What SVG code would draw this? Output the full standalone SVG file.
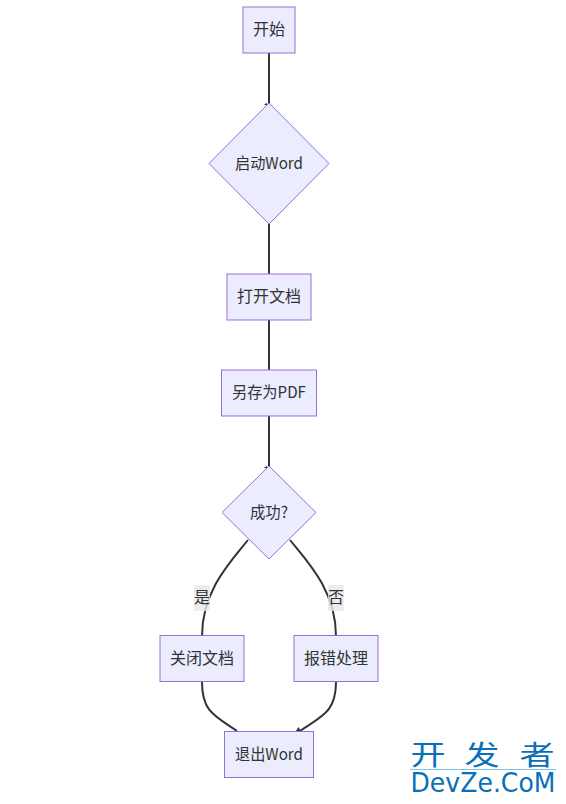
<svg xmlns="http://www.w3.org/2000/svg" width="566" height="804" viewBox="0 0 566 804">
<style>
text{font-family:"Noto Sans CJK SC","Liberation Sans",sans-serif;font-size:16px;fill:#333;text-anchor:middle;dominant-baseline:central}
.n{fill:#ececff;stroke:#9370db;stroke-width:1}
.e{fill:none;stroke:#333;stroke-width:2}
.l{fill:#e8e8e8;fill-opacity:.8;stroke:none}
text.w{font-size:27px;fill:#0b6fb8;font-family:"Noto Sans CJK SC",sans-serif}
text.d{font-size:27px;fill:#0b6fb8;font-family:"DejaVu Sans",sans-serif}
</style>
<rect width="566" height="804" fill="#fff"/>
<g id="connectors">
<path class="e" d="M269 53V103"/>
<path class="e" d="M269 224V274"/>
<path class="e" d="M269 320V370"/>
<path class="e" d="M269 416V466"/>
<path class="e" d="M248 540C232 560 202 590 202 636"/>
<path class="e" d="M290 540C306 560 336 590 336 636"/>
<path class="e" d="M202 682C202 712 215 716 237 731"/>
<path class="e" d="M336 682C336 712 322 716 300 731"/>
<path d="M264 104.500L267 103L268 106Z M296 731L298.500 727L301 731Z M264 467.500L267 466L268 469Z" fill="#333"/>
</g>
<g id="start"><rect class="n" x="243" y="7" width="52" height="46"/><text x="269" y="27.500">开始</text></g>
<g id="launch"><polygon class="n" points="269,103 329,163.500 269,224 209,163.500"/><text x="269" y="161.500" textLength="68" lengthAdjust="spacingAndGlyphs">启动Word</text></g>
<g id="open"><rect class="n" x="227" y="274" width="84" height="46"/><text x="269" y="294.500">打开文档</text></g>
<g id="save"><rect class="n" x="221.500" y="370" width="95" height="46"/><text x="269" y="391" textLength="74" lengthAdjust="spacingAndGlyphs">另存为PDF</text></g>
<g id="ok"><polygon class="n" points="269,466 316,512.500 269,559 222,512.500"/><text x="269" y="510.500" textLength="38" lengthAdjust="spacingAndGlyphs">成功?</text></g>
<g id="yes-label"><rect class="l" x="194" y="585" width="16" height="26"/><text x="202" y="596">是</text></g>
<g id="no-label"><rect class="l" x="328" y="585" width="16" height="26"/><text x="336" y="596">否</text></g>
<g id="close"><rect class="n" x="160" y="635.500" width="84" height="46"/><text x="202" y="657">关闭文档</text></g>
<g id="error"><rect class="n" x="294" y="635.500" width="84" height="46"/><text x="336" y="657">报错处理</text></g>
<g id="quit"><rect class="n" x="224.500" y="731.500" width="89" height="46"/><text x="269" y="753" textLength="68" lengthAdjust="spacingAndGlyphs">退出Word</text></g>
<g id="watermark">
<text class="w" transform="translate(428 753) scale(1.3 1)">开</text><text class="w" transform="translate(482 753) scale(1.3 1)">发</text><text class="w" transform="translate(537 753) scale(1.3 1)">者</text>
<rect x="410" y="769" width="146" height="1" fill="#7cc4e8"/>
<text class="d" x="483" y="782" textLength="145" lengthAdjust="spacingAndGlyphs">DevZe.CoM</text>
</g>
</svg>
